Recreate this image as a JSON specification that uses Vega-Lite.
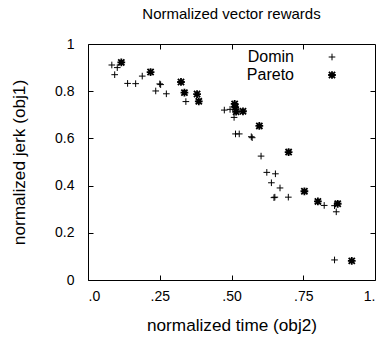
{
  "$schema": "https://vega.github.io/schema/vega-lite/v6.json",
  "width": 287,
  "height": 236,
  "autosize": "none",
  "padding": {"left": 88, "top": 44, "right": 7, "bottom": 58},
  "background": "white",
  "title": {"text": "Normalized vector rewards", "fontSize": 15, "font": "Liberation Sans", "fontWeight": "normal", "color": "black", "offset": 15},
  "config": {
    "view": {"stroke": "black", "strokeWidth": 1},
    "axis": {"labelFont": "Liberation Sans", "titleFont": "Liberation Sans", "labelFontSize": 14, "titleFontSize": 17.2, "titleFontWeight": "normal", "labelColor": "black", "titleColor": "black", "domain": false, "grid": false, "ticks": true, "tickColor": "black", "tickSize": 5, "tickWidth": 1, "offset": -5}
  },
  "data": {"values": [
    {"t": 0.083, "j": 0.911, "s": "Domin"},
    {"t": 0.102, "j": 0.900, "s": "Domin"},
    {"t": 0.093, "j": 0.870, "s": "Domin"},
    {"t": 0.138, "j": 0.833, "s": "Domin"},
    {"t": 0.166, "j": 0.832, "s": "Domin"},
    {"t": 0.189, "j": 0.864, "s": "Domin"},
    {"t": 0.250, "j": 0.831, "s": "Domin"},
    {"t": 0.253, "j": 0.828, "s": "Domin"},
    {"t": 0.236, "j": 0.801, "s": "Domin"},
    {"t": 0.273, "j": 0.789, "s": "Domin"},
    {"t": 0.341, "j": 0.756, "s": "Domin"},
    {"t": 0.475, "j": 0.720, "s": "Domin"},
    {"t": 0.495, "j": 0.723, "s": "Domin"},
    {"t": 0.509, "j": 0.689, "s": "Domin"},
    {"t": 0.514, "j": 0.619, "s": "Domin"},
    {"t": 0.527, "j": 0.619, "s": "Domin"},
    {"t": 0.569, "j": 0.607, "s": "Domin"},
    {"t": 0.572, "j": 0.603, "s": "Domin"},
    {"t": 0.603, "j": 0.525, "s": "Domin"},
    {"t": 0.623, "j": 0.456, "s": "Domin"},
    {"t": 0.653, "j": 0.450, "s": "Domin"},
    {"t": 0.639, "j": 0.412, "s": "Domin"},
    {"t": 0.669, "j": 0.390, "s": "Domin"},
    {"t": 0.648, "j": 0.349, "s": "Domin"},
    {"t": 0.651, "j": 0.351, "s": "Domin"},
    {"t": 0.698, "j": 0.351, "s": "Domin"},
    {"t": 0.823, "j": 0.316, "s": "Domin"},
    {"t": 0.859, "j": 0.315, "s": "Domin"},
    {"t": 0.865, "j": 0.289, "s": "Domin"},
    {"t": 0.859, "j": 0.085, "s": "Domin"},
    {"t": 0.116, "j": 0.922, "s": "Pareto"},
    {"t": 0.218, "j": 0.881, "s": "Pareto"},
    {"t": 0.324, "j": 0.839, "s": "Pareto"},
    {"t": 0.336, "j": 0.794, "s": "Pareto"},
    {"t": 0.380, "j": 0.788, "s": "Pareto"},
    {"t": 0.386, "j": 0.757, "s": "Pareto"},
    {"t": 0.511, "j": 0.746, "s": "Pareto"},
    {"t": 0.513, "j": 0.732, "s": "Pareto"},
    {"t": 0.516, "j": 0.713, "s": "Pareto"},
    {"t": 0.540, "j": 0.715, "s": "Pareto"},
    {"t": 0.597, "j": 0.653, "s": "Pareto"},
    {"t": 0.699, "j": 0.542, "s": "Pareto"},
    {"t": 0.754, "j": 0.376, "s": "Pareto"},
    {"t": 0.801, "j": 0.333, "s": "Pareto"},
    {"t": 0.870, "j": 0.323, "s": "Pareto"},
    {"t": 0.919, "j": 0.081, "s": "Pareto"}
  ]},
  "layer": [
    {
      "mark": {"type": "point", "filled": false, "opacity": 1, "clip": true},
      "encoding": {
        "x": {"field": "t", "type": "quantitative", "scale": {"domain": [0, 1], "nice": false, "zero": false},
              "axis": {"title": "normalized time (obj2)", "values": [0, 0.25, 0.5, 0.75, 1], "labelPadding": 9, "titlePadding": 13,
                       "labelExpr": "datum.value == 0 ? '.0' : datum.value == 1 ? '1.' : replace(format(datum.value, '.2f'), '0.', '.')"}},
        "y": {"field": "j", "type": "quantitative", "scale": {"domain": [0, 1], "nice": false, "zero": false},
              "axis": {"title": "normalized jerk (obj1)", "values": [0, 0.2, 0.4, 0.6, 0.8, 1], "labelPadding": 14, "titlePadding": 26,
                       "labelExpr": "format(datum.value, '~g')"}},
        "shape": {"field": "s", "type": "nominal",
                  "scale": {"domain": ["Domin", "Pareto"], "range": ["M-1,0H1M0,-1V1", "M-1,0H1M0,-1V1M-0.8,-0.8L0.8,0.8M-0.8,0.8L0.8,-0.8"]},
                  "legend": {"title": null, "orient": "none", "legendX": 236, "legendY": 5, "labelAlign": "right", "labelOffset": -46, "labelFont": "Liberation Sans", "labelFontSize": 16, "labelColor": "black", "symbolStrokeColor": "black", "symbolFillColor": "transparent", "rowPadding": 2, "labelLimit": 200}},
        "strokeWidth": {"field": "s", "type": "nominal", "scale": {"domain": ["Domin", "Pareto"], "range": [1, 1.8]}},
        "size": {"field": "s", "type": "nominal", "scale": {"domain": ["Domin", "Pareto"], "range": [44, 60]}},
        "color": {"value": "black"}
      }
    },
    {
      "mark": {"type": "point", "opacity": 0},
      "encoding": {
        "x": {"field": "t", "type": "quantitative", "axis": {"orient": "top", "title": null, "labels": false, "values": [0.25, 0.5, 0.75]}},
        "y": {"field": "j", "type": "quantitative", "axis": {"orient": "right", "title": null, "labels": false, "values": [0.2, 0.4, 0.6, 0.8]}}
      }
    }
  ],
  "resolve": {"axis": {"x": "independent", "y": "independent"}}
}
